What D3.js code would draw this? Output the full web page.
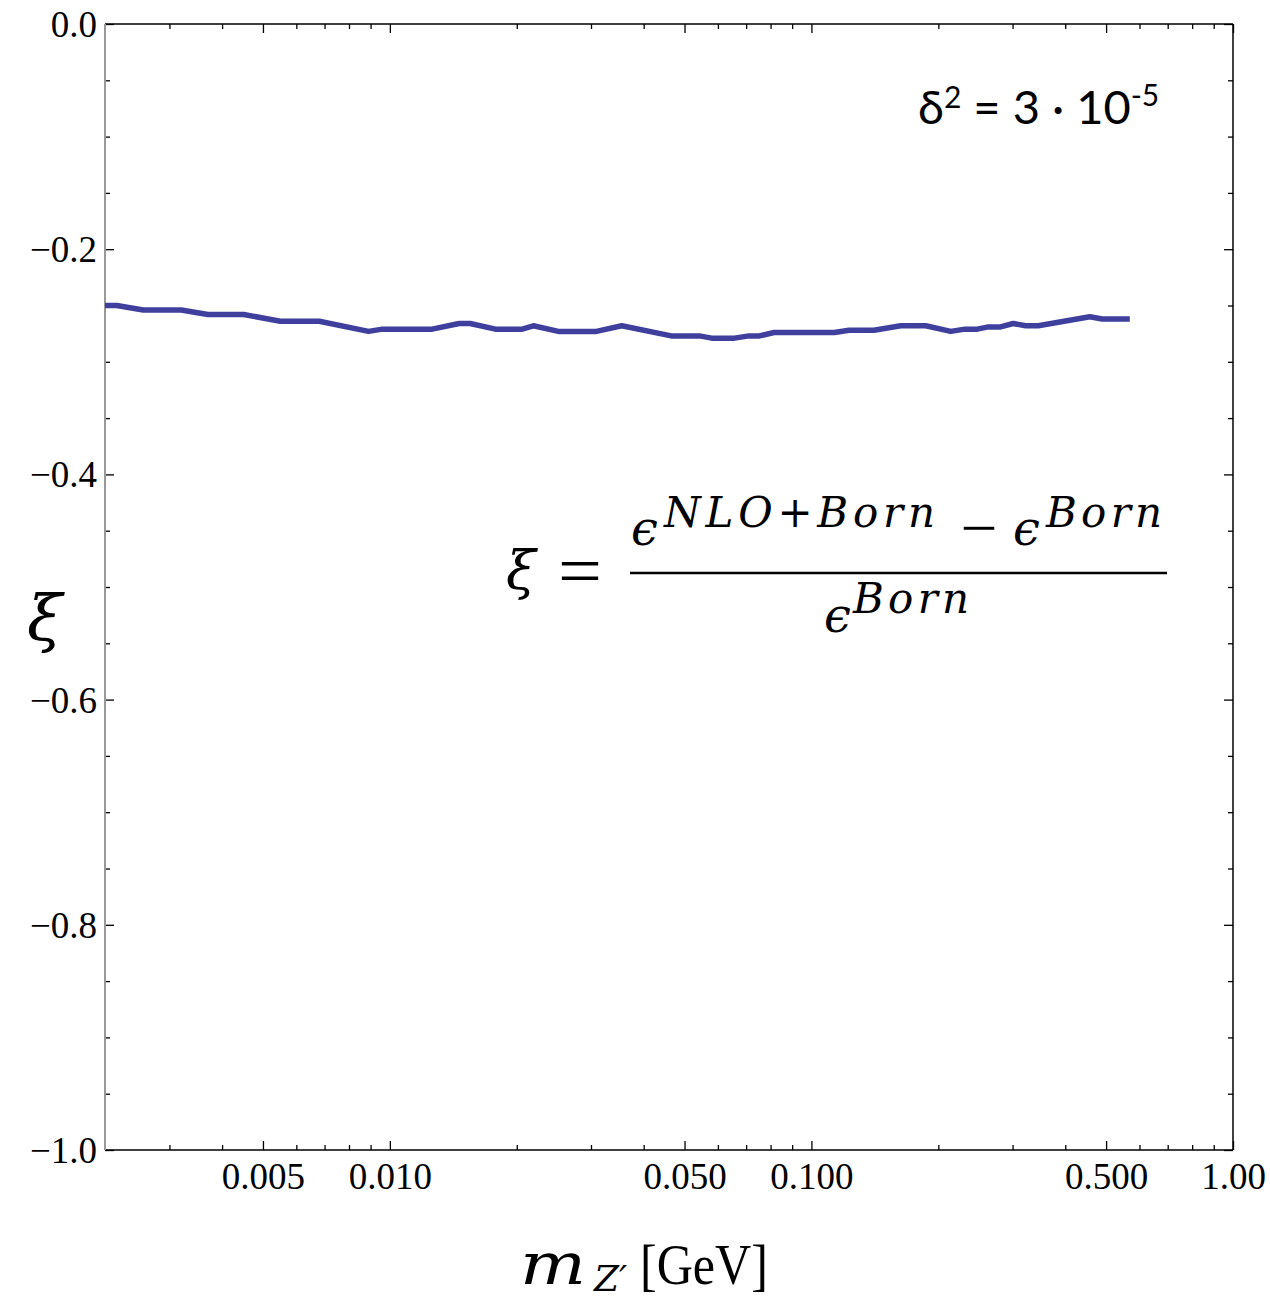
<!DOCTYPE html>
<html>
<head>
<meta charset="utf-8">
<script src="https://cdn.jsdelivr.net/npm/d3@7"></script>
<style>
  body { margin: 0; background: #fff; }
  svg { display: block; }
  .tick text { font-family: "Liberation Serif", "Times New Roman", serif; fill: #000; }
  .math { font-family: "DejaVu Serif", serif; font-style: italic; font-weight: 300; fill: #000; }
  .rm { font-family: "Liberation Serif", "DejaVu Serif", serif; font-style: normal; fill: #000; }
</style>
</head>
<body>
<svg id="chart" width="1270" height="1301"></svg>
<script>
// m_Z' in GeV and xi
const mass = [0.00211, 0.00225, 0.0026, 0.0032, 0.0037, 0.0045, 0.0055, 0.0068, 0.0089, 0.0096,
  0.0126, 0.0146, 0.0155, 0.0178, 0.0206, 0.0219, 0.0251, 0.0309, 0.0355, 0.0465,
  0.0542, 0.058, 0.0657, 0.0711, 0.0753, 0.0815, 0.1134, 0.1228, 0.1407, 0.1629,
  0.1867, 0.214, 0.2313, 0.2474, 0.2627, 0.281, 0.301, 0.3222, 0.3451, 0.4576,
  0.4894, 0.5692];
const xi = [-0.250, -0.250, -0.254, -0.254, -0.258, -0.258, -0.264, -0.264, -0.273, -0.271,
  -0.271, -0.266, -0.266, -0.271, -0.271, -0.268, -0.273, -0.273, -0.268, -0.277,
  -0.277, -0.279, -0.279, -0.277, -0.277, -0.274, -0.274, -0.272, -0.272, -0.268,
  -0.268, -0.273, -0.271, -0.271, -0.269, -0.269, -0.266, -0.268, -0.268, -0.260,
  -0.262, -0.262];

const xMajor = [0.005, 0.01, 0.05, 0.1, 0.5, 1];
const xMajorLabels = ["0.005", "0.010", "0.050", "0.100", "0.500", "1.00"];
const xMinor = [0.003, 0.004, 0.006, 0.007, 0.008, 0.009, 0.02, 0.03, 0.04,
  0.06, 0.07, 0.08, 0.09, 0.2, 0.3, 0.4, 0.6, 0.7, 0.8, 0.9];
const yMajor = [0, -0.2, -0.4, -0.6, -0.8, -1.0];
const yMajorLabels = ["0.0", "\u22120.2", "\u22120.4", "\u22120.6", "\u22120.8", "\u22121.0"];
const yMinor = [-0.05, -0.1, -0.15, -0.25, -0.3, -0.35, -0.45, -0.5, -0.55,
  -0.65, -0.7, -0.75, -0.85, -0.9, -0.95];

const plotL = 105, plotR = 1233, plotT = 24, plotB = 1150;
const svg = d3.select("#chart");

const x = d3.scaleLog().domain([0.00211, 1]).range([plotL, plotR]);
const y = d3.scaleLinear().domain([-1, 0]).range([plotB, plotT]);

function axisGroup(axis, tx, ty) {
  const g = svg.append("g").attr("transform", `translate(${tx},${ty})`).call(axis);
  g.select(".domain").remove();
  g.selectAll(".tick line").attr("stroke", "#000").attr("stroke-width", 1.3);
  return g;
}

// bottom
axisGroup(d3.axisBottom(x).tickValues(xMajor).tickSize(-9).tickPadding(13)
  .tickFormat((d, i) => xMajorLabels[i]), 0, plotB)
  .selectAll("text").style("font-size", "37px");
axisGroup(d3.axisBottom(x).tickValues(xMinor).tickSize(-5).tickFormat(""), 0, plotB);
// top
axisGroup(d3.axisTop(x).tickValues(xMajor).tickSize(-9).tickFormat(""), 0, plotT);
axisGroup(d3.axisTop(x).tickValues(xMinor).tickSize(-5).tickFormat(""), 0, plotT);
// left
axisGroup(d3.axisLeft(y).tickValues(yMajor).tickSize(-9).tickPadding(8)
  .tickFormat((d, i) => yMajorLabels[i]), plotL, 0)
  .selectAll("text").style("font-size", "37px").attr("dy", "0.34em");
axisGroup(d3.axisLeft(y).tickValues(yMinor).tickSize(-5).tickFormat(""), plotL, 0);
// right
axisGroup(d3.axisRight(y).tickValues(yMajor).tickSize(-9).tickFormat(""), plotR, 0);
axisGroup(d3.axisRight(y).tickValues(yMinor).tickSize(-5).tickFormat(""), plotR, 0);

// frame
svg.append("line").attr("x1", plotL).attr("x2", plotR).attr("y1", plotT).attr("y2", plotT)
  .attr("stroke", "#000").attr("stroke-width", 1.5);
svg.append("line").attr("x1", plotL).attr("x2", plotR).attr("y1", plotB).attr("y2", plotB)
  .attr("stroke", "#000").attr("stroke-width", 1.5);
svg.append("line").attr("x1", plotR).attr("x2", plotR).attr("y1", plotT).attr("y2", plotB)
  .attr("stroke", "#000").attr("stroke-width", 1.5);
svg.append("line").attr("x1", plotL).attr("x2", plotL).attr("y1", plotT).attr("y2", plotB)
  .attr("stroke", "#999").attr("stroke-width", 2);

// curve
const line = d3.line().x((d, i) => x(mass[i])).y(d => y(d));
svg.append("path").datum(xi).attr("d", line)
  .attr("fill", "none").attr("stroke", "#3f3f9d").attr("stroke-width", 5.5)
  .attr("stroke-linejoin", "round");

// axis labels
svg.append("text").attr("class", "math").attr("x", 27).attr("y", 640)
  .style("font-size", "64px").text("\u03BE");

svg.append("text").attr("class", "math").attr("x", 520).attr("y", 1284)
  .attr("textLength", 66).attr("lengthAdjust", "spacingAndGlyphs")
  .style("font-size", "58px").text("m");
svg.append("text").attr("class", "math").attr("x", 594).attr("y", 1291)
  .style("font-size", "36px").text("Z\u2032");
svg.append("text").attr("class", "rm").attr("x", 640).attr("y", 1284)
  .attr("textLength", 128).attr("lengthAdjust", "spacingAndGlyphs")
  .style("font-size", "56px").text("[GeV]");

// delta label
const dl = svg.append("text").attr("x", 918).attr("y", 124)
  .style("font-family", "Lato, sans-serif").style("font-size", "47px").style("fill", "#000");
dl.append("tspan").text("\u03B4");
dl.append("tspan").attr("dy", -16).style("font-size", "30px").text("2");
dl.append("tspan").attr("dy", 16).text(" = 3 \u00B7 10");
dl.append("tspan").attr("dy", -18).style("font-size", "30px").text("-5");

// formula
const f = svg.append("g");
f.append("text").attr("class", "math").attr("x", 506).attr("y", 589)
  .style("font-size", "54px").text("\u03BE");
f.append("text").attr("class", "rm").attr("x", 580).attr("y", 595).attr("text-anchor", "middle")
  .attr("textLength", 44).attr("lengthAdjust", "spacingAndGlyphs")
  .style("font-size", "72px").text("=");
f.append("line").attr("x1", 630).attr("x2", 1167).attr("y1", 573).attr("y2", 573)
  .attr("stroke", "#000").attr("stroke-width", 2.5);
f.append("text").attr("class", "math").attr("x", 631).attr("y", 545)
  .style("font-size", "48px").text("\u03F5");
f.append("text").attr("class", "math").attr("x", 664).attr("y", 527)
  .attr("textLength", 271).attr("lengthAdjust", "spacing")
  .style("font-size", "42px").text("NLO+Born");
f.append("text").attr("class", "rm").attr("x", 979).attr("y", 548).attr("text-anchor", "middle")
  .attr("textLength", 37).attr("lengthAdjust", "spacingAndGlyphs")
  .style("font-size", "60px").text("\u2212");
f.append("text").attr("class", "math").attr("x", 1013).attr("y", 545)
  .style("font-size", "48px").text("\u03F5");
f.append("text").attr("class", "math").attr("x", 1046).attr("y", 527)
  .attr("textLength", 116).attr("lengthAdjust", "spacing")
  .style("font-size", "42px").text("Born");
f.append("text").attr("class", "math").attr("x", 824).attr("y", 632)
  .style("font-size", "48px").text("\u03F5");
f.append("text").attr("class", "math").attr("x", 853).attr("y", 613)
  .attr("textLength", 116).attr("lengthAdjust", "spacing")
  .style("font-size", "42px").text("Born");
</script>
</body>
</html>
